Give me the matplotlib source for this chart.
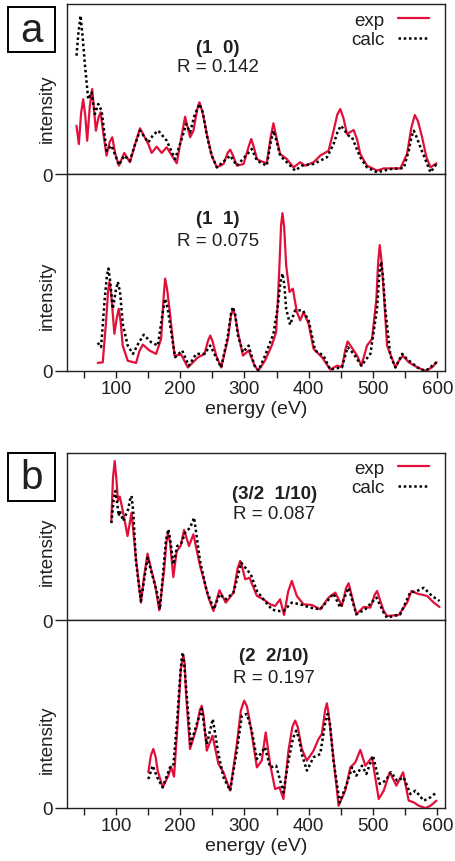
import matplotlib
matplotlib.use("Agg")
import matplotlib.pyplot as plt
from matplotlib.patches import Rectangle

plt.rcParams['font.family'] = ['Liberation Sans', 'DejaVu Sans']

INK = '#231f20'
RED = '#e0103a'

# ---- (1 0) ----
e10_exp = [38.8, 42.4, 46.0, 49.2, 52.5, 55.4, 59.5, 63.2, 66.0, 68.9, 72.8, 76.2, 80.5, 85.5, 90.5,
           94.4, 99.0, 104.8, 113.1, 121.9, 129.5, 137.5, 143.0, 150.5,
           155.7, 163.5, 171.3, 179.1, 194.7, 202.0, 207.7, 215.5, 220.7, 226.5, 230.0, 235.0, 241.5,
           249.0, 257.1, 267.5, 274.0, 277.9, 282.0, 288.3, 298.7, 306.5, 310.6, 314.5, 319.5, 324.3,
           334.7, 341.0, 345.1, 349.5, 355.5, 365.9, 376.3, 386.7, 394.5, 407.5,
           417.9, 430.9, 438.7, 444.5, 449.1, 454.0, 459.5, 469.9, 475.5, 480.2, 490.6, 506.2, 516.6,
           542.6, 553.0, 559.5, 565.0, 570.0, 576.4, 583.0, 589.4, 598.7]
i10_exp = [.284, .176, .36, .44, .34, .196, .40, .50, .38, .255, .33, .363, .24, .108, .19,
           .216, .12, .049, .124, .069, .17, .269, .23, .176,
           .124, .161, .124, .157, .063, .22, .337, .216, .255, .38, .422, .36, .235,
           .11, .039, .059, .125, .143, .11, .049, .059, .16, .206, .16, .088, .078,
           .063, .22, .298, .22, .118, .088, .039, .069, .049, .069,
           .108, .137, .255, .35, .382, .33, .235, .259, .20, .118, .049, .020, .033,
           .033, .118, .27, .347, .31, .216, .10, .039, .063]
e10_calc = [38.8, 41.5, 45.0, 48.0, 51.8, 57.0, 62.2, 67.4, 72.6, 77.8, 85.5, 93.3, 104.8, 113.1,
            121.9, 129.5, 137.5, 150.5, 158.0, 166.1, 179.1, 192.1, 202.0, 209.3, 215.5, 222.0, 230.0,
            235.5, 241.5, 249.0, 257.1, 277.9, 288.3, 311.5, 319.5,
            334.7, 341.0, 345.1, 349.5, 355.5, 365.9, 378.9, 389.2, 407.5, 428.3, 438.7, 445.0, 450.2,
            462.1, 467.3, 480.2, 490.6, 506.2, 527.0, 547.8, 555.6, 560.0, 563.4, 567.5, 573.8, 589.4,
            598.7]
i10_calc = [.696, .82, .931, .82, .647, .44, .48, .353, .412, .373, .137, .167, .053, .108,
            .078, .17, .255, .186, .23, .255, .196, .088, .20, .294, .245, .34, .412,
            .36, .225, .11, .039, .108, .049, .147, .078,
            .049, .19, .255, .20, .108, .069, .020, .049, .059, .098, .176, .25, .284,
            .225, .216, .098, .039, .010, .029, .035, .137, .22, .255, .22, .157, .010,
            .059]

# ---- (1 1) ----
e11_exp = [71.8, 79.6, 84.5, 88.0, 90.0, 92.5, 97.7, 101.5, 104.5, 107.5, 110.7, 118.5, 131.5, 136.5,
           141.9, 152.3, 162.6, 170.4, 174.0, 176.6, 179.5, 183.4, 191.2, 201.6, 212.0, 227.6, 238.0,
           243.0, 246.8, 250.5, 256.1, 263.9, 274.3, 279.0, 282.1, 285.5, 289.9, 297.7, 306.5, 315.8,
           321.7, 332.1, 342.5, 349.3, 352.0, 354.5, 357.0, 359.2, 361.8, 364.9, 370.1, 375.3, 381.6,
           386.8, 392.0, 399.8, 407.6, 420.6, 433.6, 444.0, 451.8, 457.0, 460.6, 470.0, 475.2, 481.9,
           490.7, 498.5, 505.3, 508.0, 510.5, 513.2, 516.7, 521.9, 534.9, 540.0, 546.4, 555.7, 568.7,
           581.7, 592.1, 598.8]
i11_exp = [.041, .044, .24, .41, .452, .40, .189, .27, .316, .25, .129, .052, .041, .10,
           .134, .104, .087, .163, .36, .469, .42, .316, .078, .083, .018, .069, .087,
           .15, .180, .15, .078, .018, .163, .28, .316, .28, .197, .078, .104, .027,
           .002, .053, .129, .197, .36, .537, .74, .801, .73, .537, .401, .418, .299,
           .257, .299, .240, .112, .070, .007, .027, .019, .11, .150, .104, .078, .027,
           .129, .163, .367, .55, .639, .56, .401, .129, .018, .05, .078, .044, .019,
           .0, .019, .044]
e11_calc = [71.8, 77.0, 83.0, 86.0, 88.5, 91.0, 95.3, 100.0, 103.1, 106.5, 110.9, 118.5, 126.7,
            135.0, 143.4, 154.9, 165.3, 173.0, 176.6, 180.5, 185.0,
            192.3, 203.2, 213.5, 225.0, 238.0, 246.8, 263.9, 274.3, 279.0, 282.1, 285.5, 289.9, 297.7,
            306.5, 315.8, 321.7, 332.1, 345.1, 351.4, 356.0, 359.2, 362.0, 364.9, 371.1, 378.9, 390.9,
            399.8, 410.0, 422.9, 433.6, 451.8, 460.6, 470.0, 481.9, 495.9, 506.3, 510.0, 512.6, 515.5,
            519.0, 527.0, 534.9, 545.4, 552.8, 568.7, 581.7, 598.8]
i11_calc = [.143, .121, .38, .48, .520, .46, .316, .41, .452, .40, .236, .129, .087,
            .14, .184, .146, .129, .30, .367, .32, .220,
            .070, .104, .027, .087, .087, .129, .018, .180, .29, .325, .29, .180, .095,
            .129, .027, .002, .078, .189, .316, .45, .495, .44, .316, .235, .308, .308,
            .257, .104, .078, .007, .019, .121, .087, .027, .087, .316, .50, .554, .48,
            .316, .078, .018, .087, .061, .019, .0, .044]

# ---- (3/2 1/10) ----
e15_exp = [93.0, 95.5, 98.2, 100.5, 103.3, 106.2, 112.0, 118.2, 124.4, 131.2, 139.0, 143.6, 149.3,
           155.6, 160.8, 167.6, 174.9, 178.5, 181.1, 184.5, 189.4, 194.6, 200.8, 206.1, 213.8, 220.6,
           231.0, 238.8, 244.0, 251.8, 261.2, 271.0, 283.0, 289.5, 293.4, 297.0, 301.2, 307.9, 319.4,
           329.5, 339.9, 347.7, 355.5, 361.7, 368.0, 373.7, 381.5, 391.9, 404.9, 417.9, 430.9, 441.3,
           451.7, 458.0, 462.1, 474.1, 485.5, 495.9, 502.5, 506.3, 516.6, 521.8, 540.0, 553.0, 559.8,
           568.6, 584.2, 594.6, 603.5]
i15_exp = [.593, .85, .952, .86, .713, .739, .63, .503, .643, .371, .104, .253, .397,
           .293, .214, .058, .293, .46, .523, .46, .257, .413, .443, .539, .443, .513,
           .323, .214, .134, .054, .178, .104, .164, .31, .353, .31, .244, .253, .144,
           .124, .094, .084, .124, .030, .17, .234, .144, .094, .090, .064, .134, .164,
           .084, .19, .220, .034, .078, .074, .15, .174, .054, .024, .030, .104, .174,
           .158, .144, .104, .078]
e15_calc = [93.0, 96.5, 99.2, 102.0, 104.4, 106.2, 111.4, 119.2, 122.0, 124.4, 127.0, 131.2, 139.0,
            149.3, 157.1, 163.4, 168.5, 178.0, 181.7, 185.0, 189.4, 195.6, 202.4, 207.7, 215.5, 221.7,
            231.0, 241.3, 252.6, 261.2, 271.0, 283.0, 295.0, 310.0, 319.4, 329.5, 342.5, 350.3, 360.7,
            373.7, 386.6, 402.2, 417.9, 438.7, 448.9, 462.1, 474.1, 487.9, 505.3, 516.6, 521.8, 542.4,
            557.7, 568.6, 579.0, 591.7, 603.5]
i15_calc = [.580, .72, .772, .70, .623, .653, .593, .663, .72, .743, .65, .353, .114,
            .373, .263, .174, .064, .48, .543, .47, .333, .443, .463, .523, .553, .613,
            .353, .174, .064, .154, .124, .164, .343, .273, .174, .124, .064, .054, .054,
            .104, .094, .074, .064, .158, .074, .193, .034, .064, .134, .044, .014, .034,
            .164, .174, .193, .144, .114]

# ---- (2 2/10) ----
e22_exp = [150.5, 154.5, 158.3, 162.0, 165.0, 172.8, 181.6, 185.8, 190.5, 195.7, 200.9, 203.0, 205.0,
           207.0, 209.2, 215.4, 225.8, 230.5, 233.6, 236.5, 241.4, 250.3, 259.6, 267.4, 277.8, 288.2,
           294.5, 299.6, 304.0, 309.0, 319.4, 326.9, 333.1, 339.9, 347.7, 354.4, 360.7, 368.5, 374.5,
           378.9, 383.0, 389.3, 397.1, 407.5, 415.3, 420.5, 425.5, 428.3, 431.0, 436.1, 446.5,
           456.9, 464.7, 472.5, 480.3, 488.1, 498.5, 508.9, 516.7, 526.0, 536.4, 546.8, 555.6, 563.4,
           571.2, 581.6, 589.4, 598.7]
i22_exp = [.190, .28, .314, .27, .199, .110, .172, .220, .167, .429, .730, .78, .805,
           .77, .606, .314, .429, .52, .544, .49, .305, .385, .234, .190, .093, .340,
           .52, .571, .54, .447, .216, .252, .402, .234, .101, .110, .048, .305, .43,
           .465, .43, .314, .252, .305, .367, .394, .52, .557, .50, .340, .012,
           .093, .216, .243, .309, .225, .270, .048, .092, .190, .119, .190, .039, .030,
           .012, .0, .012, .039]
e22_calc = [150.5, 157.3, 164.3, 172.8, 184.2, 189.4, 195.7, 200.0, 202.3, 204.0, 205.7, 210.1, 216.4,
            225.8, 233.6, 241.4, 250.8, 259.6, 267.4, 277.8, 288.2, 296.0, 303.8, 311.4, 319.4, 332.1,
            339.9, 349.3, 360.7, 368.5, 375.5, 380.5, 385.0, 389.3, 397.1, 407.5, 417.9, 426.0, 429.4,
            433.0, 438.5, 448.1, 459.3, 467.3, 474.1, 482.9, 489.6, 500.0, 510.5, 519.3, 528.1, 537.5,
            547.8, 558.2, 566.0, 579.0, 589.4, 598.7]
i22_calc = [.154, .225, .163, .110, .216, .225, .482, .70, .79, .828, .79, .606, .340,
            .447, .527, .340, .473, .287, .163, .093, .305, .491, .500, .412, .261, .323,
            .216, .225, .083, .252, .37, .411, .37, .287, .199, .270, .287, .46, .500,
            .45, .252, .030, .128, .216, .172, .225, .181, .278, .128, .145, .190, .145,
            .163, .074, .092, .039, .057, .083]

x_ticks = list(range(50, 601, 50))
x_labels = [str(t) if t % 100 == 0 else '' for t in x_ticks]


def style_axes(ax, bottom_ticks):
    ax.set_xlim(24, 612)
    ax.set_ylim(0, 1)
    for sp in ax.spines.values():
        sp.set_linewidth(1.0)
        sp.set_color(INK)
    ax.set_yticks([0])
    ax.set_yticklabels(['0'])
    ax.tick_params(axis='y', direction='out', length=8.5, width=1.0, pad=1.5,
                   labelsize=13.5, colors=INK)
    if bottom_ticks:
        ax.set_xticks(x_ticks)
        ax.set_xticklabels(x_labels)
        ax.tick_params(axis='x', direction='out', length=5, width=1.0, pad=1.5,
                       labelsize=13.5, colors=INK)
    else:
        ax.set_xticks([])


def draw(ax, e_exp, i_exp, e_calc, i_calc):
    ax.plot(e_exp, i_exp, color=RED, lw=1.6, label='exp',
            solid_joinstyle='round', solid_capstyle='round')
    ax.plot(e_calc, i_calc, color='black', lw=1.8, dashes=(1, 1.1), label='calc')


fig = plt.figure(figsize=(4.55, 8.62), dpi=100)
L, W = 67 / 455, 378 / 455
H = 862


def add_ax(top_px, bot_px):
    return fig.add_axes([L, 1 - bot_px / H, W, (bot_px - top_px) / H])


ax1 = add_ax(5, 175)
ax2 = add_ax(175, 372)
ax3 = add_ax(454, 621)
ax4 = add_ax(621, 809)

draw(ax1, e10_exp, i10_exp, e10_calc, i10_calc)
draw(ax2, e11_exp, i11_exp, e11_calc, i11_calc)
draw(ax3, e15_exp, i15_exp, e15_calc, i15_calc)
draw(ax4, e22_exp, i22_exp, e22_calc, i22_calc)

style_axes(ax1, False)
style_axes(ax2, True)
style_axes(ax3, False)
style_axes(ax4, True)

for ax in (ax2, ax4):
    ax.set_xlabel('energy (eV)', fontsize=14, color=INK, labelpad=2.5)

# intensity labels
for ax, yc in ((ax1, 0.388), (ax2, 0.386), (ax3, 0.413), (ax4, 0.367)):
    ax.text(-0.052, yc, 'intensity', rotation=90, ha='center', va='center',
            transform=ax.transAxes, fontsize=13.5, color=INK)

# peak index and R-factor
notes = [(ax1, 0.40, 0.747, 0.635, '(1  0)', 'R = 0.142'),
         (ax2, 0.40, 0.772, 0.661, '(1  1)', 'R = 0.075'),
         (ax3, 0.548, 0.760, 0.635, '(3/2  1/10)', 'R = 0.087'),
         (ax4, 0.548, 0.810, 0.695, '(2  2/10)', 'R = 0.197')]
for ax, xc, y1, y2, idx, rf in notes:
    ax.text(xc, y1, idx, ha='center', va='center', transform=ax.transAxes,
            fontsize=13.5, fontweight='bold', color=INK)
    ax.text(xc, y2, rf, ha='center', va='center', transform=ax.transAxes,
            fontsize=13.5, color=INK)

for ax, ytop in ((ax1, 0.955), (ax3, 0.96)):
    ax.legend(loc='upper right', bbox_to_anchor=(0.957, ytop), frameon=False,
              markerfirst=False, fontsize=13.5, handlelength=1.65, handletextpad=0.7,
              borderpad=0, borderaxespad=0, labelspacing=0.12, labelcolor=INK)

# panel letters
for top_px, bot_px, letter in ((8, 53, 'a'), (454, 502, 'b')):
    fig.patches.append(Rectangle((8 / 455, 1 - bot_px / H), 47 / 455, (bot_px - top_px) / H,
                                 transform=fig.transFigure, fill=False, lw=1.4, ec='black'))
    fig.text(31.5 / 455, 1 - (top_px + bot_px) / 2 / H, letter, ha='center', va='center',
             fontsize=29, color=INK)

fig.savefig('out.png', dpi=100)
